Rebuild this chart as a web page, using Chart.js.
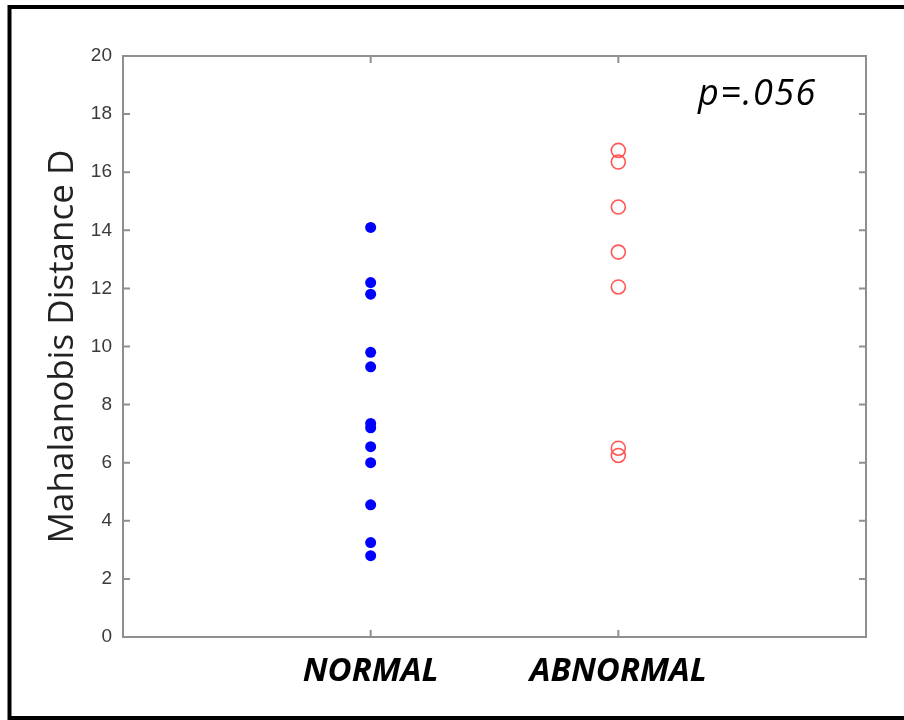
<!DOCTYPE html>
<html>
<head>
<meta charset="utf-8">
<script src="https://cdn.jsdelivr.net/npm/chart.js@4"></script>
<style>
  html, body { margin: 0; padding: 0; background: #fff; }
  #wrap { width: 904px; height: 720px; position: relative; }
</style>
</head>
<body>
<div id="wrap"><canvas id="chart" width="904" height="720"></canvas></div>
<script>
// ===== DATA =====
const categories = ['NORMAL', 'ABNORMAL'];
const categoryPos = [1, 2];
const normalValues = [14.1, 12.2, 11.8, 9.8, 9.3, 7.35, 7.2, 6.55, 6.0, 4.55, 3.25, 2.8];
const abnormalValues = [16.75, 16.35, 14.8, 13.25, 12.05, 6.5, 6.25];
const yTicks = [0, 2, 4, 6, 8, 10, 12, 14, 16, 18, 20];
const pValueText = 'p=.056';

const frameColor = '#8f8f8f';
const blueColor = '#0000ff';
const redColor = 'rgb(255, 85, 85)';

// Frame box with inward ticks, like a MATLAB axes
const framePlugin = {
    id: 'frame',
    afterDraw(chart) {
        const { ctx, chartArea: a, scales } = chart;
        const len = 7;
        ctx.save();
        ctx.strokeStyle = frameColor;
        ctx.lineWidth = 2;
        ctx.strokeRect(a.left, a.top, a.right - a.left, a.bottom - a.top);
        ctx.beginPath();
        scales.y.ticks.forEach(t => {
            const y = scales.y.getPixelForValue(t.value);
            ctx.moveTo(a.left, y); ctx.lineTo(a.left + len, y);
            ctx.moveTo(a.right, y); ctx.lineTo(a.right - len, y);
        });
        scales.x.ticks.forEach(t => {
            const x = scales.x.getPixelForValue(t.value);
            ctx.moveTo(x, a.bottom); ctx.lineTo(x, a.bottom - len);
            ctx.moveTo(x, a.top); ctx.lineTo(x, a.top + len);
        });
        ctx.stroke();

        // p-value annotation
        ctx.fillStyle = '#000';
        ctx.font = "italic 36px 'Open Sans'";
        ctx.letterSpacing = '1.5px';
        ctx.textAlign = 'left';
        ctx.textBaseline = 'alphabetic';
        ctx.fillText(pValueText, a.right - 168, a.top + 49);
        ctx.letterSpacing = '0px';

        // outer black border
        ctx.strokeStyle = '#000';
        ctx.lineWidth = 4;
        ctx.strokeRect(9.5, 7, 900, 711);
        ctx.restore();
    }
};

new Chart(document.getElementById('chart'), {
    type: 'scatter',
    data: {
        datasets: [{
            label: categories[0],
            data: normalValues.map(v => ({ x: categoryPos[0], y: v })),
            pointRadius: 5.5,
            pointBackgroundColor: blueColor,
            pointBorderColor: blueColor,
            pointBorderWidth: 0
        }, {
            label: categories[1],
            data: abnormalValues.map(v => ({ x: categoryPos[1], y: v })),
            pointRadius: 7,
            pointBackgroundColor: 'rgba(0,0,0,0)',
            pointBorderColor: redColor,
            pointBorderWidth: 1.6
        }]
    },
    options: {
        responsive: false,
        animation: false,
        layout: { padding: { top: 56, right: 38, left: 0, bottom: 0 } },
        plugins: {
            legend: { display: false },
            tooltip: { enabled: false }
        },
        scales: {
            x: {
                type: 'linear',
                min: 0,
                max: 3,
                afterFit: (s) => { s.height = 83; },
                afterBuildTicks: (s) => { s.ticks = categoryPos.map(v => ({ value: v })); },
                grid: { display: false, drawTicks: false },
                border: { display: false },
                ticks: {
                    padding: 15,
                    color: '#000',
                    font: { family: "'Open Sans'", size: 33, style: 'italic', weight: 'bold' },
                    callback: (v) => categories[categoryPos.indexOf(v)] || ''
                }
            },
            y: {
                min: 0,
                max: 20,
                afterFit: (s) => { s.width = 123; },
                afterBuildTicks: (s) => { s.ticks = yTicks.map(v => ({ value: v })); },
                grid: { display: false, drawTicks: false },
                border: { display: false },
                ticks: {
                    padding: 11,
                    color: '#3a3a3a',
                    font: { family: "'Liberation Sans'", size: 19 }
                },
                title: {
                    display: true,
                    text: 'Mahalanobis Distance D',
                    color: '#222',
                    font: { family: "'Open Sans'", size: 35 },
                    padding: { top: 42, bottom: 0 }
                }
            }
        }
    },
    plugins: [framePlugin]
});
</script>
</body>
</html>
